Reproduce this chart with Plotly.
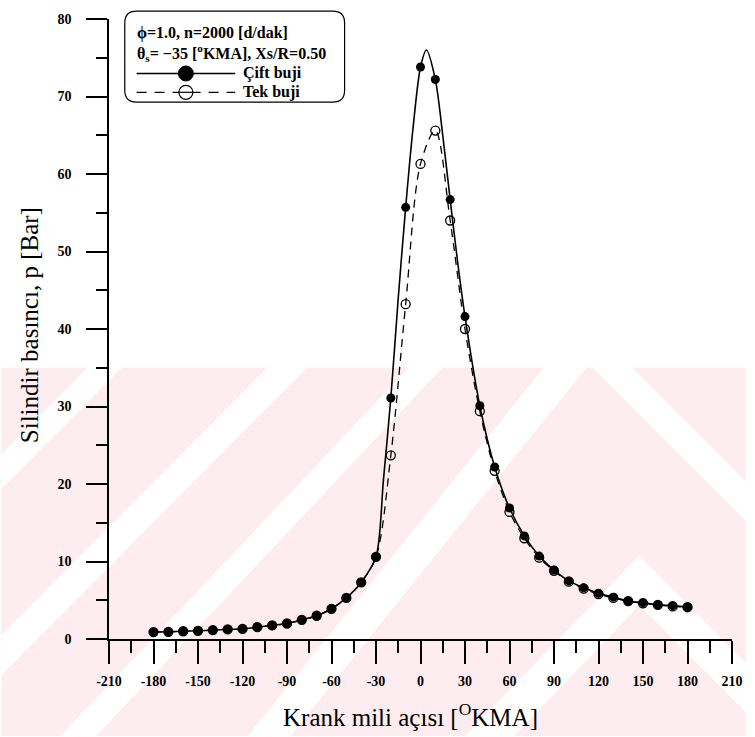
import plotly.graph_objects as go

# Crank angle [°KMA] at which the cylinder pressure was sampled
crank = list(range(-180, 181, 10))

# Cylinder pressure p [bar] – double spark plug (Çift buji)
p_cift = [0.9, 0.93, 1.0, 1.06, 1.15, 1.24, 1.3, 1.53, 1.75, 2.0,
          2.47, 3.0, 3.9, 5.3, 7.3, 10.6, 31.1, 55.7, 73.8, 72.2,
          56.7, 41.6, 30.1, 22.2, 16.9, 13.3, 10.7, 8.9, 7.5, 6.6,
          5.9, 5.4, 4.9, 4.7, 4.4, 4.3, 4.1]

# Cylinder pressure p [bar] – single spark plug (Tek buji)
p_tek = [0.9, 0.93, 1.0, 1.06, 1.15, 1.24, 1.3, 1.53, 1.75, 2.0,
         2.47, 3.0, 3.9, 5.3, 7.3, 10.6, 23.7, 43.2, 61.3, 65.6,
         54.0, 40.0, 29.4, 21.7, 16.4, 13.0, 10.5, 8.8, 7.4, 6.5,
         5.8, 5.3, 4.9, 4.6, 4.4, 4.2, 4.1]

# Continuous double-spark pressure trace (finer sampling around the peak)
curve_x = [-180, -170, -160, -150, -140, -130, -120, -110, -100, -90,
           -80, -70, -60, -50, -40, -30, -25, -20, -15, -10, -5, 0, 4,
           10, 15, 20, 25, 30, 40, 50, 60, 70, 80, 90, 100, 110, 120,
           130, 140, 150, 160, 170, 180]
curve_p = [0.9, 0.93, 1.0, 1.06, 1.15, 1.24, 1.3, 1.53, 1.75, 2.0,
           2.47, 3.0, 3.9, 5.3, 7.3, 10.6, 20.5, 31.1, 44.0, 55.7, 66.0, 73.8, 76.0,
           72.2, 65.0, 56.7, 48.7, 41.6, 30.1, 22.2, 16.9, 13.3, 10.7, 8.9, 7.5, 6.6, 5.9,
           5.4, 4.9, 4.7, 4.4, 4.3, 4.1]

x_ticks = list(range(-210, 211, 30))
y_ticks = list(range(0, 81, 10))

W, H = 755, 737
L, R, T, B = 109, 14, 13, 98
PW, PH = W - L - R, H - T - B
SERIF = "Liberation Serif, Times New Roman, serif"


def xp(px):
    return (px - L) / PW


def yp(py):
    return (H - B - py) / PH


fig = go.Figure()

fig.add_trace(go.Scatter(
    x=crank, y=p_tek, mode="lines", showlegend=False, hoverinfo="skip",
    line=dict(color="black", width=1.3, dash="8px,6px", shape="spline", smoothing=0.9)))
fig.add_trace(go.Scatter(
    x=curve_x, y=curve_p, mode="lines", showlegend=False, hoverinfo="skip",
    line=dict(color="black", width=1.6, shape="spline", smoothing=0.8)))
fig.add_trace(go.Scatter(
    x=crank, y=p_tek, mode="markers", name="Tek buji", showlegend=False,
    marker=dict(symbol="circle-open", size=9, color="black", line=dict(width=1.3, color="black"))))
fig.add_trace(go.Scatter(
    x=crank, y=p_cift, mode="markers", name="Çift buji", showlegend=False,
    marker=dict(symbol="circle", size=9, color="black")))

shapes = []

# light watermark band pattern in the lower part of the page
PINK = "#fdedf0"


def poly(pts, color):
    d = "M " + " L ".join(f"{xp(a):.5f},{yp(b):.5f}" for a, b in pts) + " Z"
    return dict(type="path", xref="paper", yref="paper", path=d,
                fillcolor=color, line=dict(width=0), layer="below")


shapes.append(poly([(0, 365), (755, 365), (755, 737), (0, 737)], PINK))
shapes.append(poly([(0, 452), (87, 365), (122, 365), (0, 487)], "white"))
shapes.append(poly([(270, 365), (310, 365), (0, 675), (0, 635)], "white"))
shapes.append(poly([(413, 365), (447, 365), (96, 737), (60, 737)], "white"))
shapes.append(poly([(550, 365), (593, 365), (293, 737), (250, 737)], "white"))
shapes.append(poly([(600, 365), (640, 365), (755, 480), (755, 520)], "white"))
shapes.append(poly([(470, 737), (647, 555), (755, 663), (755, 713), (647, 605), (520, 737)], "white"))

# rounded info / legend box
bx0, bx1, by0, by1, r = 125, 348, 5, 97, 12
path = (f"M {xp(bx0 + r)},{yp(by0)} L {xp(bx1 - r)},{yp(by0)} "
        f"Q {xp(bx1)},{yp(by0)} {xp(bx1)},{yp(by0 + r)} "
        f"L {xp(bx1)},{yp(by1 - r)} Q {xp(bx1)},{yp(by1)} {xp(bx1 - r)},{yp(by1)} "
        f"L {xp(bx0 + r)},{yp(by1)} Q {xp(bx0)},{yp(by1)} {xp(bx0)},{yp(by1 - r)} "
        f"L {xp(bx0)},{yp(by0 + r)} Q {xp(bx0)},{yp(by0)} {xp(bx0 + r)},{yp(by0)} Z")
shapes.append(dict(type="path", xref="paper", yref="paper", path=path,
                   fillcolor="white", line=dict(color="black", width=1.2)))

# legend samples
shapes.append(dict(type="line", xref="paper", yref="paper",
                   x0=xp(137), x1=xp(237), y0=yp(68), y1=yp(68),
                   line=dict(color="black", width=1.4)))
shapes.append(dict(type="circle", xref="paper", yref="paper",
                   xsizemode="pixel", ysizemode="pixel",
                   xanchor=xp(187), yanchor=yp(68), x0=-7.5, x1=7.5, y0=-7.5, y1=7.5,
                   fillcolor="black", line=dict(color="black", width=1)))
shapes.append(dict(type="line", xref="paper", yref="paper",
                   x0=xp(137), x1=xp(237), y0=yp(87), y1=yp(87),
                   line=dict(color="black", width=1.3, dash="10px,8px")))
shapes.append(dict(type="circle", xref="paper", yref="paper",
                   xsizemode="pixel", ysizemode="pixel",
                   xanchor=xp(187), yanchor=yp(87), x0=-7, x1=7, y0=-7, y1=7,
                   fillcolor="white", line=dict(color="black", width=1.2)))
shapes.append(dict(type="line", xref="paper", yref="paper",
                   x0=xp(180), x1=xp(194), y0=yp(87), y1=yp(87),
                   line=dict(color="black", width=1.2)))

annotations = []


def text(px, py, s, size=14, anchor="left", bold=False, angle=0):
    annotations.append(dict(
        xref="paper", yref="paper", x=xp(px), y=yp(py), text=s, showarrow=False,
        xanchor=anchor, yanchor="middle", textangle=angle,
        font=dict(family=SERIF, size=size, color="black",
                  weight="bold" if bold else "normal")))


text(135, 27, "ϕ=1.0, n=2000 [d/dak]", 16, bold=True)
text(135, 47, "θ<sub>s</sub>= −35 [<sup>o</sup>KMA], Xs/R=0.50", 16, bold=True)
text(243, 68, "Çift buji", 16, bold=True)
text(243, 87, "Tek buji", 16, bold=True)

text(415, 716, "Krank mili açısı [<sup>O</sup>KMA]", 25, anchor="center")
text(28, 322, "Silindir basıncı, p [Bar]", 25, anchor="center", angle=-90)

axis_common = dict(
    showgrid=False, zeroline=False, showline=True, linecolor="black", linewidth=1.5,
    ticks="outside", tickcolor="black", tickwidth=1.5,
    tickfont=dict(family=SERIF, size=14, color="black", weight="bold"),
)

fig.update_layout(
    width=W, height=H,
    margin=dict(l=L, r=R, t=T, b=B),
    paper_bgcolor="white", plot_bgcolor="rgba(0,0,0,0)",
    showlegend=False,
    xaxis=dict(range=[-210, 210], tickvals=x_ticks, ticktext=[str(v) for v in x_ticks],
               ticklen=23, ticklabelstandoff=5,
               minor=dict(dtick=15, tick0=-195, ticks="outside", ticklen=12,
                          tickcolor="black", tickwidth=1.5),
               **axis_common),
    yaxis=dict(range=[0, 80], tickvals=y_ticks, ticktext=[str(v) for v in y_ticks],
               ticklen=21, ticklabelstandoff=12,
               minor=dict(dtick=5, tick0=5, ticks="outside", ticklen=11,
                          tickcolor="black", tickwidth=1.5),
               **axis_common),
    shapes=shapes,
    annotations=annotations,
)

fig.write_html("out.html")
